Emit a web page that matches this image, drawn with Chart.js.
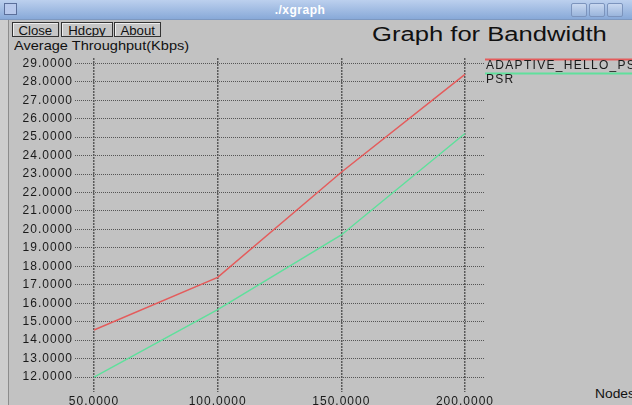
<!DOCTYPE html>
<html>
<head>
<meta charset="utf-8">
<script src="https://cdn.jsdelivr.net/npm/chart.js@4/dist/chart.umd.min.js"></script>
<style>
  html, body { margin: 0; padding: 0; }
  body { width: 632px; height: 405px; overflow: hidden; position: relative; background: #c2c2c2; font-family: "Liberation Sans", Arial, sans-serif; }
  #titlebar { position: absolute; left: 0; top: 0; width: 632px; height: 20px; background: linear-gradient(#bcd0ee, #88a9d8); border-bottom: 1px solid #7d98c0; box-sizing: border-box; }
  #titlebar .name { position: absolute; left: 0; width: 600px; top: 3px; text-align: center; color: #fff; font-weight: bold; font-size: 12px; letter-spacing: 0.5px; }
  #titlebar .icon { position: absolute; left: 4px; top: 3px; width: 11px; height: 10px; border: 1px solid #5b6f9a; background: #b8c9ec; }
  .wbtn { position: absolute; top: 3px; width: 14px; height: 12px; border: 1px solid #7c94bd; border-radius: 2px; background: linear-gradient(#c9d8f0, #9ab5dc); }
  #frame { position: absolute; left: 0; top: 20px; width: 8px; height: 385px; background: #cdcdcd; border-right: 1px solid #8c8c8c; }
  .btn { position: absolute; top: 22px; height: 13px; border: 1px solid #333; background: #c6c6c6; line-height: 13px; text-align: center; color: #111; box-shadow: inset 1px 1px 0 #eee; overflow: hidden; }
  .btn span { display: inline-block; font-size: 12px; transform: scaleX(1.1); }
  .stretch { position: absolute; white-space: nowrap; transform-origin: 0 0; color: #111; }
  #chart { position: absolute; left: 0; top: 0; }
</style>
</head>
<body>
<div id="titlebar">
  <div class="icon"></div>
  <div class="name">./xgraph</div>
  <div class="wbtn" style="left:571px"></div>
  <div class="wbtn" style="left:589px"></div>
  <div class="wbtn" style="left:607px"></div>
</div>
<div id="frame"></div>
<div class="btn" style="left:12px;width:45px"><span>Close</span></div>
<div class="btn" style="left:61px;width:50px"><span>Hdcpy</span></div>
<div class="btn" style="left:114px;width:45px"><span>About</span></div>
<div class="stretch" style="left:372px;top:23px;font-size:20px;line-height:22px;transform:scaleX(1.28)">Graph for Bandwidth</div>
<div class="stretch" style="left:14px;top:38px;font-size:13px;line-height:15px;transform:scaleX(1.12)">Average Throughput(Kbps)</div>
<div class="stretch" style="left:595px;top:387px;font-size:12px;line-height:14px;transform:scaleX(1.15)">Nodes</div>
<canvas id="chart" width="632" height="405"></canvas>
<script>
const nodes = [50, 100, 150, 200];
const adaptiveHello = [14.55, 17.4, 23.1, 28.4];
const psr = [12.0, 15.65, 19.7, 25.2];
const xTicks = [50, 100, 150, 200];
const yTicks = [12, 13, 14, 15, 16, 17, 18, 19, 20, 21, 22, 23, 24, 25, 26, 27, 28, 29];

const spacing = {
    id: "spacing",
    beforeLayout(chart) { chart.ctx.letterSpacing = "1px"; },
    beforeDraw(chart) { chart.ctx.letterSpacing = "1px"; }
};

// xgraph style legend: coloured line with the label under it
const sideLegend = {
    id: "sideLegend",
    afterDraw(chart) {
        const ctx = chart.ctx;
        ctx.save();
        ctx.letterSpacing = "1.3px";
        chart.data.datasets.forEach((ds, i) => {
            const y = 59.5 + i * 14;
            ctx.strokeStyle = ds.borderColor;
            ctx.lineWidth = 2;
            ctx.beginPath();
            ctx.moveTo(485, y);
            ctx.lineTo(632, y);
            ctx.stroke();
            ctx.fillStyle = "#1a1a1a";
            ctx.font = "12px 'Liberation Sans'";
            ctx.textBaseline = "top";
            ctx.fillText(ds.label, 486, y);
        });
        ctx.restore();
    }
};

new Chart(document.getElementById("chart"), {
    type: "line",
    data: {
        datasets: [{
            label: "ADAPTIVE_HELLO_PSR",
            data: nodes.map((n, i) => ({ x: n, y: adaptiveHello[i] })),
            borderColor: "#e45c5c",
            borderWidth: 1.5,
            pointRadius: 0,
            tension: 0
        }, {
            label: "PSR",
            data: nodes.map((n, i) => ({ x: n, y: psr[i] })),
            borderColor: "#5fe09c",
            borderWidth: 1.5,
            pointRadius: 0,
            tension: 0
        }]
    },
    options: {
        responsive: false,
        animation: false,
        layout: { padding: { top: 58, right: 147, left: 0, bottom: 0 } },
        plugins: {
            legend: { display: false },
            tooltip: { enabled: false }
        },
        scales: {
            x: {
                type: "linear",
                min: 42.32,
                max: 208.1,
                afterBuildTicks: s => { s.ticks = xTicks.map(v => ({ value: v })); },
                afterFit: s => { s.height = 13; },
                grid: { color: "#5a5a5a", lineWidth: 1.5, drawTicks: false },
                border: { display: false, dash: [2, 1] },
                ticks: {
                    padding: 2,
                    color: "#1a1a1a",
                    font: { family: "Liberation Sans", size: 12 },
                    maxRotation: 0,
                    callback: v => Number(v).toFixed(4)
                }
            },
            y: {
                min: 11.19,
                max: 29.29,
                afterBuildTicks: s => { s.ticks = yTicks.map(v => ({ value: v })); },
                afterFit: s => { s.width = 75; },
                grid: { color: "#555555", lineWidth: 1, drawTicks: false },
                border: { display: false, dash: [1, 1] },
                ticks: {
                    padding: 2,
                    color: "#1a1a1a",
                    font: { family: "Liberation Sans", size: 12 },
                    callback: v => Number(v).toFixed(4)
                }
            }
        }
    },
    plugins: [spacing, sideLegend]
});
</script>
</body>
</html>
